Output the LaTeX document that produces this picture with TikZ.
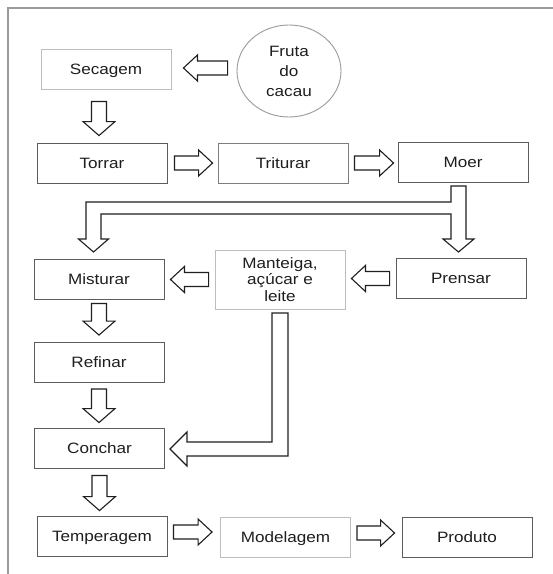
\documentclass[tikz,border=0pt]{standalone}
\usepackage{fontspec}
\setmainfont{Liberation Sans}[FakeStretch=1.14]
\usetikzlibrary{calc,shapes.geometric}
\definecolor{dk}{HTML}{5C5C5C}
\definecolor{lt}{HTML}{BDBDBD}
\definecolor{fr}{HTML}{9A9A9A}
\definecolor{tx}{HTML}{1E1E1E}
\tikzset{
  boxd/.style={draw=dk, line width=0.9pt, minimum width=130pt, minimum height=40pt, inner sep=0pt, text=tx, font=\fontsize{15}{16.5}\selectfont, align=center, text depth=0pt},
  boxl/.style={boxd, draw=lt},
  blk/.style={draw=black!88, line width=1.1pt, line join=miter, fill=white},
  framel/.style={draw=fr, line width=1.4pt}
}
\newcommand\hblock[2]{\draw[blk] let \p1=#1, \p2=#2, \n1={ifthenelse(\x2>\x1,1,-1)} in
  (\x1,\y1+7pt) -- (\x2-\n1*14pt,\y1+7pt) -- (\x2-\n1*14pt,\y1+13pt) -- (\x2,\y1)
  -- (\x2-\n1*14pt,\y1-13pt) -- (\x2-\n1*14pt,\y1-7pt) -- (\x1,\y1-7pt) -- cycle;}
\newcommand\vblock[2]{\draw[blk] let \p1=#1, \p2=#2 in
  (\x1-7.5pt,\y1) -- (\x1-7.5pt,\y2+14pt) -- (\x1-16pt,\y2+14pt) -- (\x1,\y2)
  -- (\x1+16pt,\y2+14pt) -- (\x1+7.5pt,\y2+14pt) -- (\x1+7.5pt,\y1) -- cycle;}
\begin{document}
\begin{tikzpicture}[x=1pt,y=-1pt]
\useasboundingbox (0,0) rectangle (553,574);
\fill[white] (0,0) rectangle (553,574);
\draw[framel] (553,8) -- (8,8) -- (8,574);

% nodes
\node[boxl] (secagem) at (106,69) {Secagem};
\node[draw=fr, line width=0.9pt, ellipse, minimum width=104pt, minimum height=92pt, inner sep=0pt, text=tx, font=\fontsize{15}{20}\selectfont, align=center] (fruta) at (289,71) {Fruta\\do\\cacau};

\node[boxd] (torrar) at (102,163) {Torrar};
\node[boxd, draw=dk!80] (triturar) at (283,163) {Triturar};
\node[boxd] (moer) at (463,162) {Moer};

\node[boxd] (misturar) at (99,279) {Misturar};
\node[boxl, minimum height=59pt] (manteiga) at (280,279.5) {Manteiga,\\açúcar e\\leite};
\node[boxd] (prensar) at (461,278.5) {Prensar};

\node[boxd] (refinar) at (99,362.5) {Refinar};
\node[boxd] (conchar) at (99.5,448) {Conchar};

\node[boxd] (temperagem) at (102,536) {Temperagem};
\node[boxl] (modelagem) at (285.5,537) {Modelagem};
\node[boxd] (produto) at (467,537.5) {Produto};

% simple block arrows
\hblock{($(fruta.west)+(-9,-3)$)}{($(secagem.east)+(12,0)$)}
\vblock{($(secagem.south)+(-7,12)$)}{($(torrar.north)+(-7,-7)$)}
\hblock{($(torrar.east)+(7,0)$)}{($(triturar.west)+(-5,0)$)}
\hblock{($(triturar.east)+(6,0)$)}{($(moer.west)+(-4,0)$)}

\hblock{($(manteiga.west)+(-6,0)$)}{($(misturar.east)+(6,0)$)}
\hblock{($(prensar.west)+(-6,0)$)}{($(manteiga.east)+(6,0)$)}

\vblock{($(misturar.south)+(0,4)$)}{($(refinar.north)+(0,-7)$)}
\vblock{($(refinar.south)+(0,6)$)}{($(conchar.north)+(0,-5)$)}
\vblock{($(conchar.south)+(0,7)$)}{($(temperagem.north)+(0,-5)$)}

\hblock{($(temperagem.east)+(6,-4)$)}{($(modelagem.west)+(-8,-4)$)}
\hblock{($(modelagem.east)+(6,-4)$)}{($(produto.west)+(-7,-4)$)}

% split arrow from Moer
\draw[blk] (451,186) -- (451,202) -- (86,202) -- (86,239) -- (78.5,239) -- (93.5,252)
  -- (108.5,239) -- (101,239) -- (101,214) -- (451,214) -- (451,239) -- (443,239)
  -- (458.5,252) -- (474,239) -- (466,239) -- (466,186) -- cycle;

% L arrow from Manteiga to Conchar
\draw[blk] (272,313) -- (272,442) -- (187,442) -- (187,432) -- (170,449) -- (187,466)
  -- (187,456) -- (288,456) -- (288,313) -- cycle;
\end{tikzpicture}
\end{document}
